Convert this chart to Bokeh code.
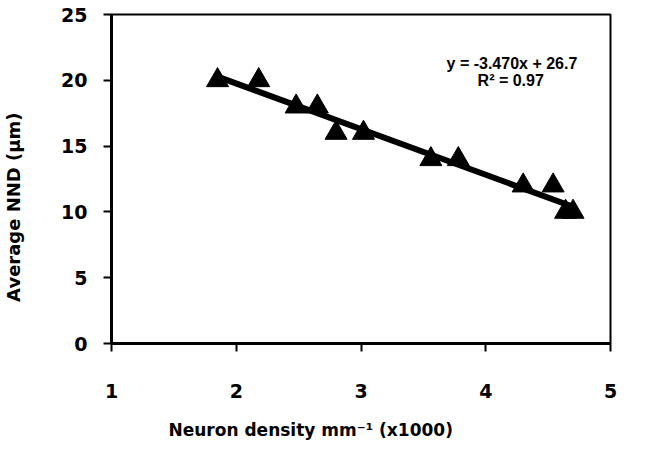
from bokeh.plotting import figure
from bokeh.models import Range1d, FixedTicker, Label, ColumnDataSource, Title
from bokeh.embed import file_html
from bokeh.resources import INLINE

# Data
density = [1.85, 2.18, 2.48, 2.65, 2.80, 3.02, 3.56, 3.78, 4.30, 4.54, 4.64, 4.70]
nnd = [20, 20, 18, 18, 16, 16, 14, 14, 12, 12, 10, 10]
slope = -3.470
intercept = 26.7
r_squared = 0.97
x_ticks = [1, 2, 3, 4, 5]
y_ticks = [0, 5, 10, 15, 20, 25]
x_title = "Neuron density mm⁻¹ (x1000)"
y_title = "Average NND (µm)"

FONT = "DejaVu Sans"
EQ_FONT = "Liberation Sans"
W, H = 648, 465

p = figure(width=W, height=H, output_backend="svg", toolbar_location=None,
           x_range=Range1d(1, 5), y_range=Range1d(0, 25),
           min_border_left=110, min_border_right=38, min_border_top=14, min_border_bottom=122)
p.xgrid.visible = False
p.ygrid.visible = False
p.outline_line_color = "black"
p.outline_line_width = 2
p.background_fill_color = "white"
p.border_fill_color = "white"

for ax, ticks, standoff in ((p.xaxis, x_ticks, 32), (p.yaxis, y_ticks, 16)):
    ax.ticker = FixedTicker(ticks=ticks)
    ax.axis_line_width = 3
    ax.axis_line_color = "black"
    ax.major_tick_line_width = 2
    ax.major_tick_line_color = "black"
    ax.major_tick_out = 8
    ax.major_tick_in = 0
    ax.minor_tick_line_color = None
    ax.major_label_text_font = FONT
    ax.major_label_text_font_style = "bold"
    ax.major_label_text_font_size = "19px"
    ax.major_label_text_color = "black"
    ax.major_label_standoff = standoff

# y axis title: trailing no-break spaces push the visible text below centre
p.yaxis.axis_label = y_title + "\u00a0" * 9
p.yaxis.axis_label_text_font = FONT
p.yaxis.axis_label_text_font_style = "bold"
p.yaxis.axis_label_text_font_size = "18px"
p.yaxis.axis_label_text_color = "black"
p.yaxis.axis_label_standoff = 34

# trend line from the fitted equation
x_line = [min(density), max(density)]
y_line = [slope * xv + intercept for xv in x_line]
p.line(x_line, y_line, line_color="black", line_width=6)

src = ColumnDataSource(dict(x=density, y=nnd))
p.scatter("x", "y", source=src, marker="triangle", size=22,
          fill_color="black", line_color="black")

p.add_layout(Label(x=4.21, y=21.3, text=f"y = {slope:.3f}x + {intercept}",
                   text_font=EQ_FONT, text_font_style="bold", text_font_size="16px",
                   text_align="center", text_baseline="middle", text_color="black"))
p.add_layout(Label(x=4.20, y=20.0, text=f"R² = {r_squared}",
                   text_font=EQ_FONT, text_font_style="bold", text_font_size="16px",
                   text_align="center", text_baseline="middle", text_color="black"))

p.add_layout(Title(text=x_title, align="left", offset=57, standoff=34,
                   text_font=FONT, text_font_style="bold", text_font_size="17px",
                   text_color="black"), "below")

open("out.html", "w").write(file_html(p, INLINE))
